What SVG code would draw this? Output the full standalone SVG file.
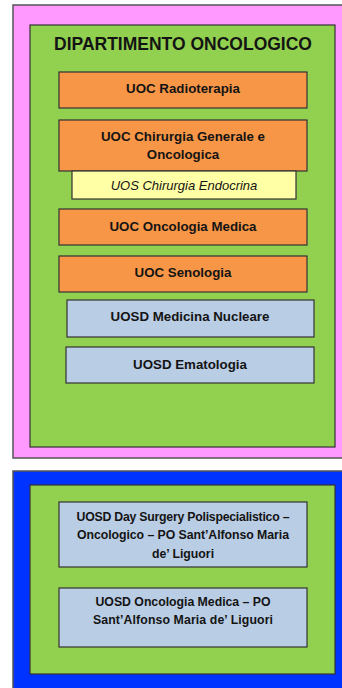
<svg xmlns="http://www.w3.org/2000/svg" width="342" height="688" viewBox="0 0 342 688">
<style>
text{font-family:"Liberation Sans",Arial,sans-serif;font-weight:bold;font-size:13.3px;fill:#141414;text-anchor:middle}
.frame{stroke:#555;stroke-width:1.5}
.box{stroke:#333;stroke-width:1.2}
.org{fill:#F79646}.blu{fill:#B9CDE5}.yel{fill:#FFFFA6}.grn{fill:#92D050}
.it{font-style:italic;font-weight:normal;font-size:13px}
.sm{font-size:12.3px}
</style>
<rect width="342" height="688" fill="#fff"/>
<g id="dept-oncologico">
<rect class="frame" x="13" y="5" width="335" height="453" fill="#FF99FF"/>
<rect class="box grn" x="30" y="25" width="305" height="422"/>
<text x="183" y="50" style="font-size:17.5px">DIPARTIMENTO ONCOLOGICO</text>
</g>
<g id="uoc-radioterapia">
<rect class="box org" x="59" y="72" width="248" height="36"/>
<text x="183" y="93">UOC Radioterapia</text>
</g>
<g id="uoc-chirurgia">
<rect class="box org" x="59" y="120" width="248" height="51"/>
<text x="183" y="141">UOC Chirurgia Generale e</text>
<text x="183" y="159">Oncologica</text>
</g>
<g id="uos-endocrina">
<rect class="box yel" x="72" y="171" width="224" height="28"/>
<text class="it" x="184" y="190">UOS Chirurgia Endocrina</text>
</g>
<g id="uoc-oncologia">
<rect class="box org" x="59" y="209" width="248" height="36"/>
<text x="183" y="231">UOC Oncologia Medica</text>
</g>
<g id="uoc-senologia">
<rect class="box org" x="59" y="256" width="248" height="36"/>
<text x="183" y="277">UOC Senologia</text>
</g>
<g id="uosd-medicina-nucleare">
<rect class="box blu" x="67" y="300" width="247" height="37"/>
<text x="190" y="321">UOSD Medicina Nucleare</text>
</g>
<g id="uosd-ematologia">
<rect class="box blu" x="66" y="347" width="248" height="36"/>
<text x="190" y="369">UOSD Ematologia</text>
</g>
<g id="presidio">
<rect class="frame" x="13" y="471" width="335" height="225" fill="#0033FF"/>
<rect class="box grn" x="30" y="485" width="305" height="189"/>
</g>
<g id="uosd-day-surgery">
<rect class="box blu" x="59" y="502" width="248" height="65"/>
<text class="sm" x="183" y="521" textLength="213">UOSD Day Surgery Polispecialistico –</text>
<text class="sm" x="183" y="539" textLength="212">Oncologico – PO Sant’Alfonso Maria</text>
<text class="sm" x="183" y="558">de’ Liguori</text>
</g>
<g id="uosd-oncologia-po">
<rect class="box blu" x="59" y="588" width="248" height="59"/>
<text class="sm" x="183" y="606" textLength="175">UOSD Oncologia Medica – PO</text>
<text class="sm" x="183" y="624" textLength="180">Sant’Alfonso Maria de’ Liguori</text>
</g>
<g id="connectors"></g>
</svg>
